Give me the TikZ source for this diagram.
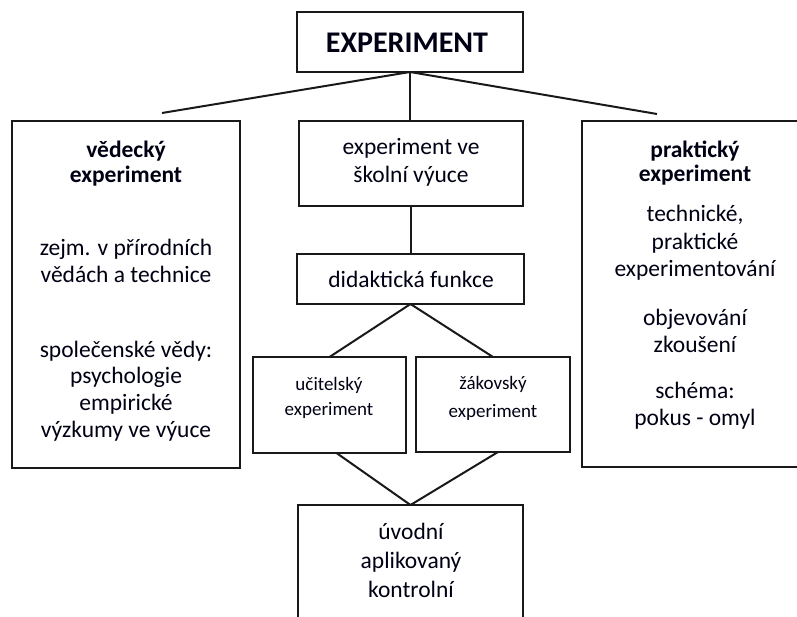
\documentclass[tikz,border=0pt]{standalone}
\usepackage{fontspec}
\setmainfont{Carlito}
\usetikzlibrary{calc}
\begin{document}
\begin{tikzpicture}[x=1pt,y=-1pt,
  frame/.style={draw=black!90, line width=2pt, inner sep=0pt, outer sep=0pt},
  link/.style={draw=black!90, line width=2pt},
  body/.style={anchor=base, inner sep=0pt, text=black!92!blue, font=\fontsize{23.5}{27}\selectfont},
  head/.style={body, font=\fontsize{23.5}{27}\selectfont\bfseries},
  small/.style={body, font=\fontsize{19}{23}\selectfont},
  titletext/.style={body, font=\fontsize{30}{34}\selectfont\bfseries}]
\clip (0,0) rectangle (797,617);
\fill[white] (0,0) rectangle (797,617);

% boxes
\node[frame, minimum width=226pt, minimum height=60pt]  (title)  at (410,42)    {};
\node[frame, minimum width=228pt, minimum height=347pt] (sci)    at (126,294.5) {};
\node[frame, minimum width=224pt, minimum height=85pt]  (school) at (411,163.5) {};
\node[frame, minimum width=226pt, minimum height=346pt] (prak)   at (695,294)   {};
\node[frame, minimum width=227pt, minimum height=50pt]  (dida)   at (410.5,279) {};
\node[frame, minimum width=153pt, minimum height=96pt]  (teach)  at (329.5,405) {};
\node[frame, minimum width=154pt, minimum height=95pt]  (pupil)  at (493,404.5) {};
\node[frame, minimum width=225pt, minimum height=145pt] (final)  at (410.5,577.5) {};

% texts
\node[titletext] (t0) at (407,53) {EXPERIMENT};

\node[head] (s1) at (126,158) {vědecký};
\node[head] (s2) at (126,183) {experiment};
\node[body] (s3) at (126,256) {zejm. v přírodních};
\node[body] (s4) at (126,283) {vědách a technice};
\node[body] (s5) at (126,357) {společenské vědy:};
\node[body] (s6) at (126,383.5) {psychologie};
\node[body] (s7) at (126,410) {empirické};
\node[body] (s8) at (126,437) {výzkumy ve výuce};

\node[body] (m1) at (411,155) {experiment ve};
\node[body] (m2) at (411,183) {školní výuce};
\node[body] (m3) at (411,288) {didaktická funkce};

\node[small] (u1) at (329,390) {učitelský};
\node[small] (u2) at (329,415) {experiment};
\node[small] (z1) at (493,389) {žákovský};
\node[small] (z2) at (493,417) {experiment};

\node[body] (f1) at (411,539) {úvodní};
\node[body] (f2) at (411,568) {aplikovaný};
\node[body] (f3) at (411,597) {kontrolní};

\node[head] (p1) at (695,158) {praktický};
\node[head] (p2) at (695,182) {experiment};
\node[body] (p3) at (695,222) {technické,};
\node[body] (p4) at (695,250) {praktické};
\node[body] (p5) at (695,277) {experimentování};
\node[body] (p6) at (695,325) {objevování};
\node[body] (p7) at (695,352) {zkoušení};
\node[body] (p8) at (695,398) {schéma:};
\node[body] (p9) at (695,425) {pokus - omyl};

% connectors
\coordinate (sciTop)  at ($(sci.north west)+(150,-8)$);
\coordinate (prakTop) at ($(prak.north west)+(75,-7)$);
\coordinate (teachFoot) at ($(teach.south)+(7,0)$);
\coordinate (pupilFoot) at ($(pupil.south)+(5,0)$);
\draw[link] (title.south) -- (sciTop);
\draw[link] (title.south) -- (prakTop);
\draw[link] (title.south) -- (title.south |- school.north);
\draw[link] (school.south) -- (school.south |- dida.north);
\draw[link] (dida.south) -- (teach.north);
\draw[link] (dida.south) -- (pupil.north);
\draw[link] (teachFoot) -- (final.north);
\draw[link] (pupilFoot) -- (final.north);
\end{tikzpicture}
\end{document}
